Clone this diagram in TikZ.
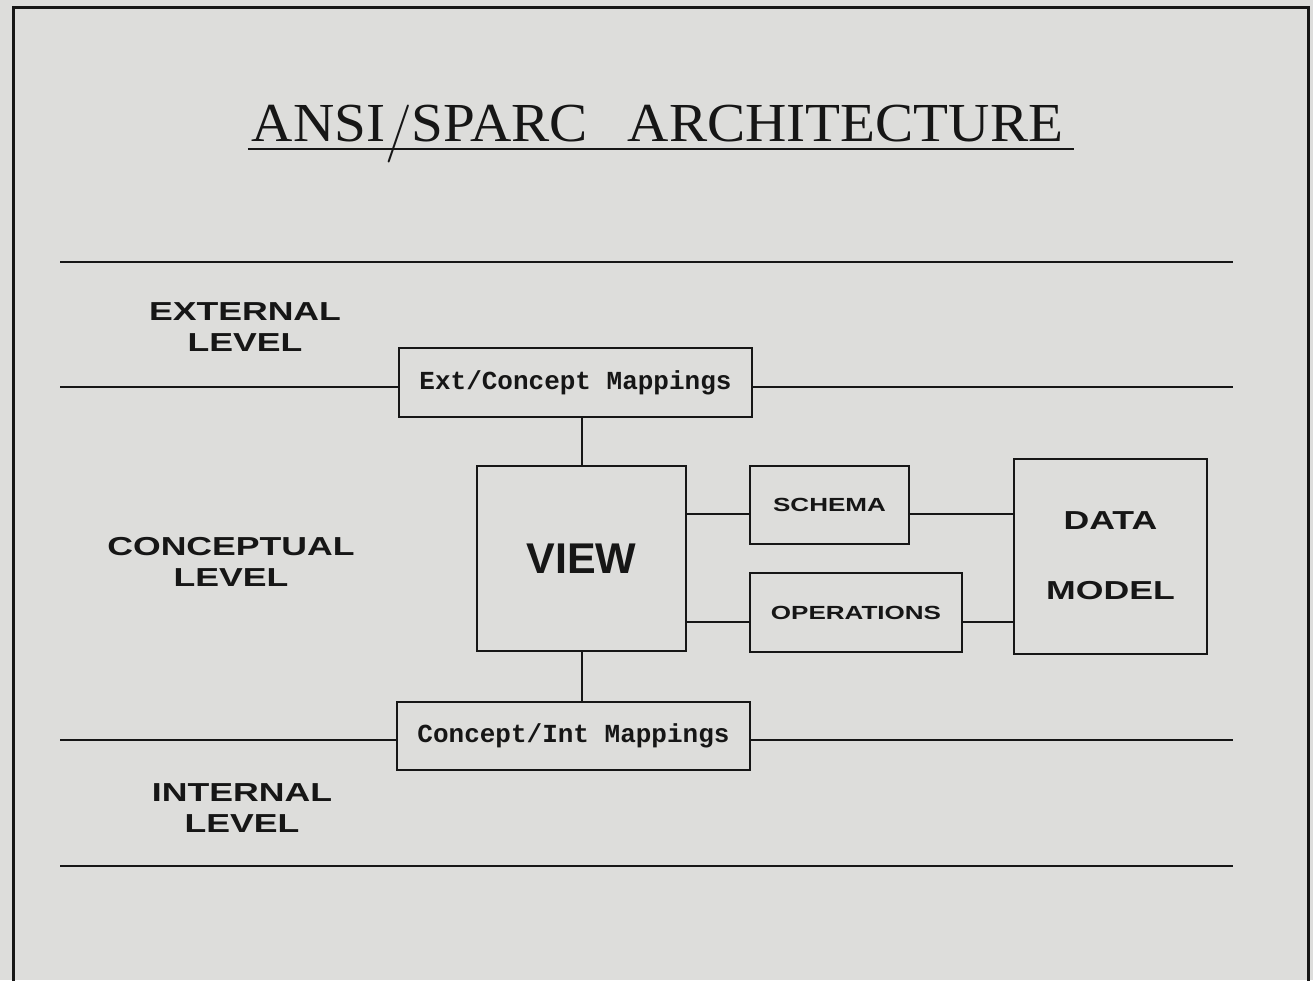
\documentclass[tikz,border=0pt]{standalone}
\usepackage{fontspec}
\usepackage{xcolor}
\newfontfamily\titlefont{Liberation Serif}[FakeStretch=1.04]
\newfontfamily\lblfont{Liberation Sans}[FakeStretch=1.37]
\newfontfamily\viewfont{Liberation Sans}
\newfontfamily\mapfont{Liberation Mono}
\definecolor{paper}{RGB}{221,221,219}
\definecolor{ink}{RGB}{22,22,22}

\begin{document}
\begin{tikzpicture}[x=1pt,y=-1pt,color=ink,line width=2pt,
    box/.style={draw,inner sep=0pt},
    lvl/.style={align=center,font=\lblfont\bfseries\fontsize{26}{31}\selectfont},
    mapping/.style={box,font=\mapfont\bfseries\fontsize{26}{30}\selectfont},
    small/.style={font=\lblfont\bfseries\fontsize{19}{23}\selectfont}]

  \useasboundingbox[fill=paper] (0,0) rectangle (1313,980);
  \draw[line width=3pt] (13,7) rectangle (1308,1000);

  % heading, with the long Latin Modern slash
  \node (title) at (657.5,141) [anchor=base,inner sep=0pt,
    font=\titlefont\fontsize{55}{60}\selectfont]
    {ANSI{\normalfont\fontsize{58}{60}\selectfont\raisebox{-7pt}{/}}SPARC\hspace{40pt}ARCHITECTURE};
  \draw[line width=2.5pt] ([xshift=-3pt,yshift=-8pt]title.base west) -- ([xshift=10pt,yshift=-8pt]title.base east);

  % level separators
  \foreach \y in {262,866} {
    \draw[line width=2.5pt] (60,\y) -- (1233,\y);
  }

  \node (ext) at (245,327) [lvl] {EXTERNAL\\LEVEL};
  \node (con) at (231,562) [lvl] {CONCEPTUAL\\LEVEL};
  \node (int) at (242,808) [lvl] {INTERNAL\\LEVEL};

  % boxes
  \node (extmap) at (575.5,382.5) [mapping,minimum width=353pt,minimum height=69pt] {Ext/Concept Mappings};
  \node (intmap) at (573.5,736) [mapping,minimum width=353pt,minimum height=68pt] {Concept/Int Mappings};
  \node (view) at (581.5,558.5) [box,minimum width=209pt,minimum height=185pt,
    font=\viewfont\bfseries\fontsize{43}{48}\selectfont] {VIEW};
  \node (schema) at (829.5,505) [box,small,minimum width=159pt,minimum height=78pt] {SCHEMA};
  \node (ops) at (856,612.5) [box,small,minimum width=212pt,minimum height=79pt] {OPERATIONS};
  \node (dmodel) at (1110.5,556) [box,align=center,minimum width=193pt,minimum height=195pt,
    font=\lblfont\bfseries\fontsize{26}{70}\selectfont] {DATA\\MODEL};

  % split separators through the mapping boxes
  \coordinate (eL) at (60,387);
  \coordinate (eR) at (1233,387);
  \coordinate (iL) at (60,740);
  \coordinate (iR) at (1233,740);
  \draw[line width=2.5pt] (eL) -- (eL -| extmap.west);
  \draw[line width=2.5pt] (extmap.east |- eR) -- (eR);
  \draw[line width=2.5pt] (iL) -- (iL -| intmap.west);
  \draw[line width=2.5pt] (intmap.east |- iR) -- (iR);

  % links
  \draw (view.north) -- (view.north |- extmap.south);
  \draw (view.south) -- (view.south |- intmap.north);
  \coordinate (s) at (700,514);
  \coordinate (o) at (700,622);
  \draw (view.east |- s) -- (schema.west |- s);
  \draw (schema.east |- s) -- (dmodel.west |- s);
  \draw (view.east |- o) -- (ops.west |- o);
  \draw (ops.east |- o) -- (dmodel.west |- o);
\end{tikzpicture}
\end{document}
